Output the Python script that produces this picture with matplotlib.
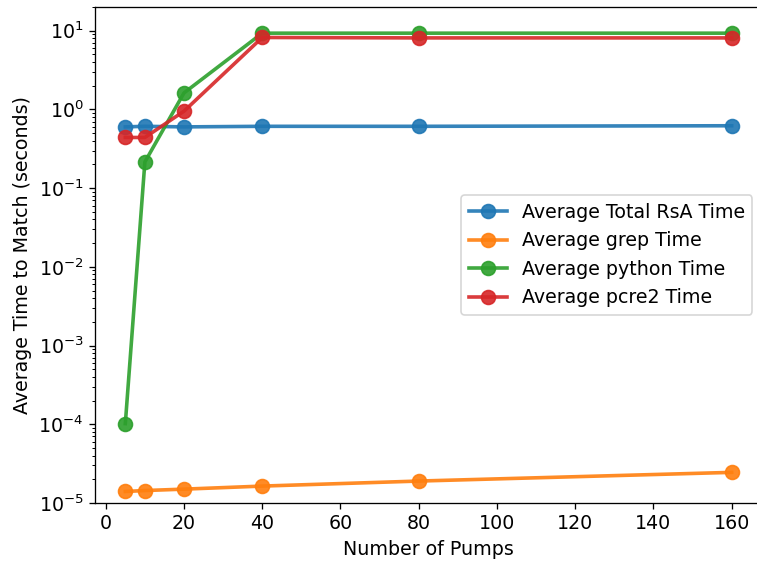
import numpy as np
import matplotlib
matplotlib.use("Agg")
import matplotlib.pyplot as plt

# pump counts and average match times (seconds)
pumps = [5, 10, 20, 40, 80, 160]
rsa_time = [0.60, 0.61, 0.60, 0.61, 0.61, 0.62]
grep_time = [1.40e-5, 1.44e-5, 1.50e-5, 1.64e-5, 1.90e-5, 2.45e-5]
python_time = [1.02e-4, 0.215, 1.62, 9.3, 9.3, 9.3]
pcre2_time = [0.44, 0.44, 0.95, 8.2, 8.1, 8.1]

plt.rcParams["font.size"] = 11.6

W, H = 757, 565
dpi = 118
fig = plt.figure(figsize=(W / dpi, H / dpi), dpi=dpi)
ax = fig.add_axes([95 / W, 1 - 503 / H, 667 / W, 496 / H])

series = [
    ("Average Total RsA Time", rsa_time),
    ("Average grep Time", grep_time),
    ("Average python Time", python_time),
    ("Average pcre2 Time", pcre2_time),
]
for label, vals in series:
    ax.plot(pumps, vals, marker="o", markersize=8.5, linewidth=2.2, alpha=0.9, label=label)

ax.set_yscale("log")
ax.set_ylim(1e-5, 20)
ax.set_xlabel("Number of Pumps")
ax.set_ylabel("Average Time to Match (seconds)")
ax.legend(loc="center right")

fig.savefig("out.png", dpi=dpi)
